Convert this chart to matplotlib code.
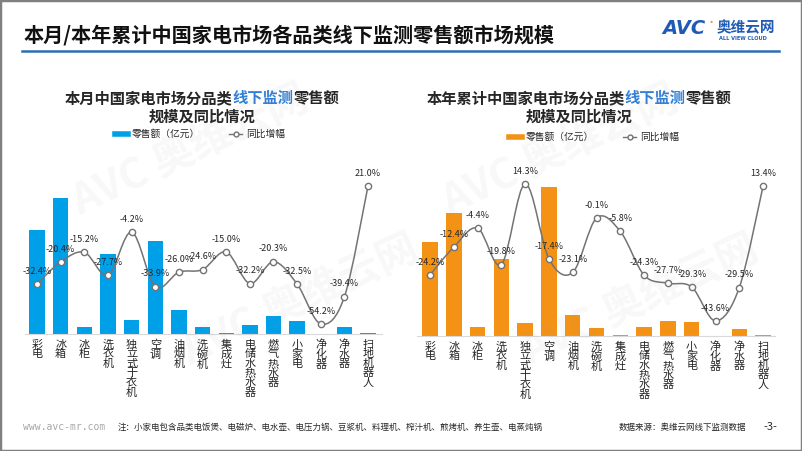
import matplotlib
matplotlib.use("Agg")
import matplotlib.pyplot as plt
from matplotlib.path import Path
from matplotlib.patches import PathPatch, Rectangle
from matplotlib.lines import Line2D

plt.rcParams["font.family"] = ["Noto Sans CJK SC", "DejaVu Sans"]

# ---- data ----
categories = ["彩电", "冰箱", "冰柜", "洗衣机", "独立式干衣机", "空调", "油烟机", "洗碗机",
              "集成灶", "电储水热水器", "燃气热水器", "小家电", "净化器", "净水器", "扫地机器人"]
month_sales = [52.0, 68.0, 3.4, 40.0, 7.0, 46.4, 12.0, 3.6, 0.7, 4.4, 9.0, 6.5, 0.2, 3.4, 0.7]
month_yoy = [-32.4, -20.4, -15.2, -27.7, -4.2, -33.9, -26.0, -24.6, -15.0, -32.2, -20.3,
             -32.5, -54.2, -39.4, 21.0]
year_sales = [234, 307, 22, 192, 33, 373, 52, 19, 3.5, 23, 37.5, 34, 0.8, 17, 3.5]
year_yoy = [-24.2, -12.4, -4.4, -19.8, 14.3, -17.4, -23.1, -0.1, -5.8, -24.3, -27.7,
            -29.3, -43.6, -29.5, 13.4]

W, H = 802, 451
BLUE = "#00A0E9"
ORANGE = "#F39214"
LINE = "#737373"
TXT = "#262626"


def px(x0, y0, x1, y1):
    # pixel box (top-left origin) -> figure fraction rect
    return [x0 / W, 1 - y1 / H, (x1 - x0) / W, (y1 - y0) / H]


def smooth_path(xs, ys):
    # Excel-like smoothed line: Catmull-Rom segments as cubic Beziers
    n = len(xs)
    verts = [(xs[0], ys[0])]
    codes = [Path.MOVETO]
    for i in range(n - 1):
        p0 = (xs[max(i - 1, 0)], ys[max(i - 1, 0)])
        p1 = (xs[i], ys[i])
        p2 = (xs[i + 1], ys[i + 1])
        p3 = (xs[min(i + 2, n - 1)], ys[min(i + 2, n - 1)])
        c1 = (p1[0] + (p2[0] - p0[0]) / 6, p1[1] + (p2[1] - p0[1]) / 6)
        c2 = (p2[0] - (p3[0] - p1[0]) / 6, p2[1] - (p3[1] - p1[1]) / 6)
        verts += [c1, c2, p2]
        codes += [Path.CURVE4] * 3
    return Path(verts, codes)


def colored_line(fig, xc, y, parts, size):
    # one title line made of differently coloured pieces, centred on xc (pixels)
    r = fig.canvas.get_renderer()
    texts = []
    for s, c in parts:
        t = fig.text(0, 1 - y / H, s, color=c, fontsize=size, fontweight="bold",
                     ha="left", va="center", transform=fig.transFigure)
        texts.append(t)
    widths = [t.get_window_extent(r).width for t in texts]
    x = xc - sum(widths) / 2
    for t, w in zip(texts, widths):
        t.set_x(x / W)
        x += w


def panel(fig, rect, xlim, sales, ylim, yoy, y2lim, color):
    ax = fig.add_axes(rect)
    x = list(range(len(categories)))
    ax.bar(x, sales, width=0.65, color=color, zorder=2)
    ax.set_xlim(*xlim)
    ax.set_ylim(*ylim)
    ax.set_yticks([])
    ax.set_xticks(x)
    ax.set_xticklabels(["\n".join(c) for c in categories], fontsize=8, color=TXT,
                       linespacing=0.95, va="top")
    ax.tick_params(axis="x", length=0, pad=4)
    for s in ("top", "left", "right"):
        ax.spines[s].set_visible(False)
    ax.spines["bottom"].set_color("#d9d9d9")
    ax.patch.set_alpha(0)

    ax2 = ax.twinx()
    ax2.set_ylim(*y2lim)
    ax2.set_yticks([])
    for s in ax2.spines.values():
        s.set_visible(False)
    ax2.add_patch(PathPatch(smooth_path(x, yoy), fill=False, edgecolor=LINE, lw=1.1, zorder=3))
    ax2.plot(x, yoy, ls="none", marker="o", ms=4.5, mfc="white", mec=LINE, mew=1, zorder=4)
    for xi, v in zip(x, yoy):
        ax2.annotate(f"{v:.1f}%", (xi, v), xytext=(0, 6), textcoords="offset points",
                     ha="center", va="bottom", fontsize=6.5, color=TXT, zorder=5)
    return ax


fig = plt.figure(figsize=(W / 100, H / 100), dpi=100)

# frame + header
fig.add_artist(Rectangle((0, 0), 1, 1, transform=fig.transFigure, fill=False,
                         edgecolor="#808080", lw=2.5))
fig.text(24 / W, 1 - 35 / H, "本月/本年累计中国家电市场各品类线下监测零售额市场规模",
         fontsize=14.5, fontweight="bold", color="#111111", va="center")
fig.add_artist(Line2D([22 / W, 779 / W], [1 - 51 / H] * 2, transform=fig.transFigure,
                      color="#2E6DB4", lw=1.8))
fig.text(662 / W, 1 - 28 / H, "AVC", fontsize=14, fontweight="bold", style="italic",
         color="#1F5BB5", va="center", family="DejaVu Sans")
fig.text(711 / W, 1 - 23 / H, "•", fontsize=8, color="#F39214", va="center", ha="center")
fig.text(746 / W, 1 - 27 / H, "奥维云网", fontsize=10.5, fontweight="bold",
         color="#1F5BB5", va="center", ha="center")
fig.text(743 / W, 1 - 39 / H, "ALL VIEW CLOUD", fontsize=3.6, fontweight="bold",
         color="#1F5BB5", va="center", ha="center", family="DejaVu Sans")

# left panel
panel(fig, px(25, 160, 382, 334), (-0.51, 14.59), month_sales, (0, 87),
      month_yoy, (-59.7, 35.1), BLUE)
colored_line(fig, 202, 98, [("本月中国家电市场分品类", TXT), ("线下监测", "#2F7ED8"),
                            ("零售额", TXT)], 11)
colored_line(fig, 202, 117, [("规模及同比情况", TXT)], 11)

# right panel
panel(fig, px(417, 160, 775, 336), (-0.546, 14.5), year_sales, (0, 440),
      year_yoy, (-50, 24.4), ORANGE)
colored_line(fig, 579, 98, [("本年累计中国家电市场分品类", TXT), ("线下监测", "#2F7ED8"),
                            ("零售额", TXT)], 11)
colored_line(fig, 579, 117, [("规模及同比情况", TXT)], 11)

# legends
for xc, yc, col in ((200, 134, BLUE), (594, 137, ORANGE)):
    handles = [Line2D([], [], color=col, lw=4),
               Line2D([], [], color=LINE, lw=1, marker="o", ms=3.5, mfc="white", mec=LINE)]
    fig.legend(handles, ["零售额（亿元）", "同比增幅"], loc="center",
               bbox_to_anchor=(xc / W, 1 - yc / H), ncol=2, frameon=False,
               fontsize=7, handlelength=1.3, handletextpad=0.4, columnspacing=3.0,
               labelcolor=TXT)

# faint watermarks
for wx, wy in ((190, 150), (300, 300), (560, 150), (640, 300)):
    fig.text(wx / W, 1 - wy / H, "AVC 奥维云网", fontsize=30, fontweight="bold",
             color="#9a9a9a", alpha=0.07, rotation=25, ha="center", va="center", zorder=10)

# footer
fig.text(23 / W, 1 - 427 / H, "www.avc-mr.com", fontsize=7, color="#a6a6a6",
         va="center", family="DejaVu Sans Mono")
fig.text(118 / W, 1 - 427 / H,
         "注：小家电包含品类电饭煲、电磁炉、电水壶、电压力锅、豆浆机、料理机、榨汁机、煎烤机、养生壶、电蒸炖锅",
         fontsize=6.1, color=TXT, va="center")
fig.text(619 / W, 1 - 427 / H, "数据来源：奥维云网线下监测数据", fontsize=6.1,
         color=TXT, va="center")
fig.text(770 / W, 1 - 427 / H, "-3-", fontsize=8, color=TXT, va="center", ha="center")

fig.savefig("out.png", dpi=100)
